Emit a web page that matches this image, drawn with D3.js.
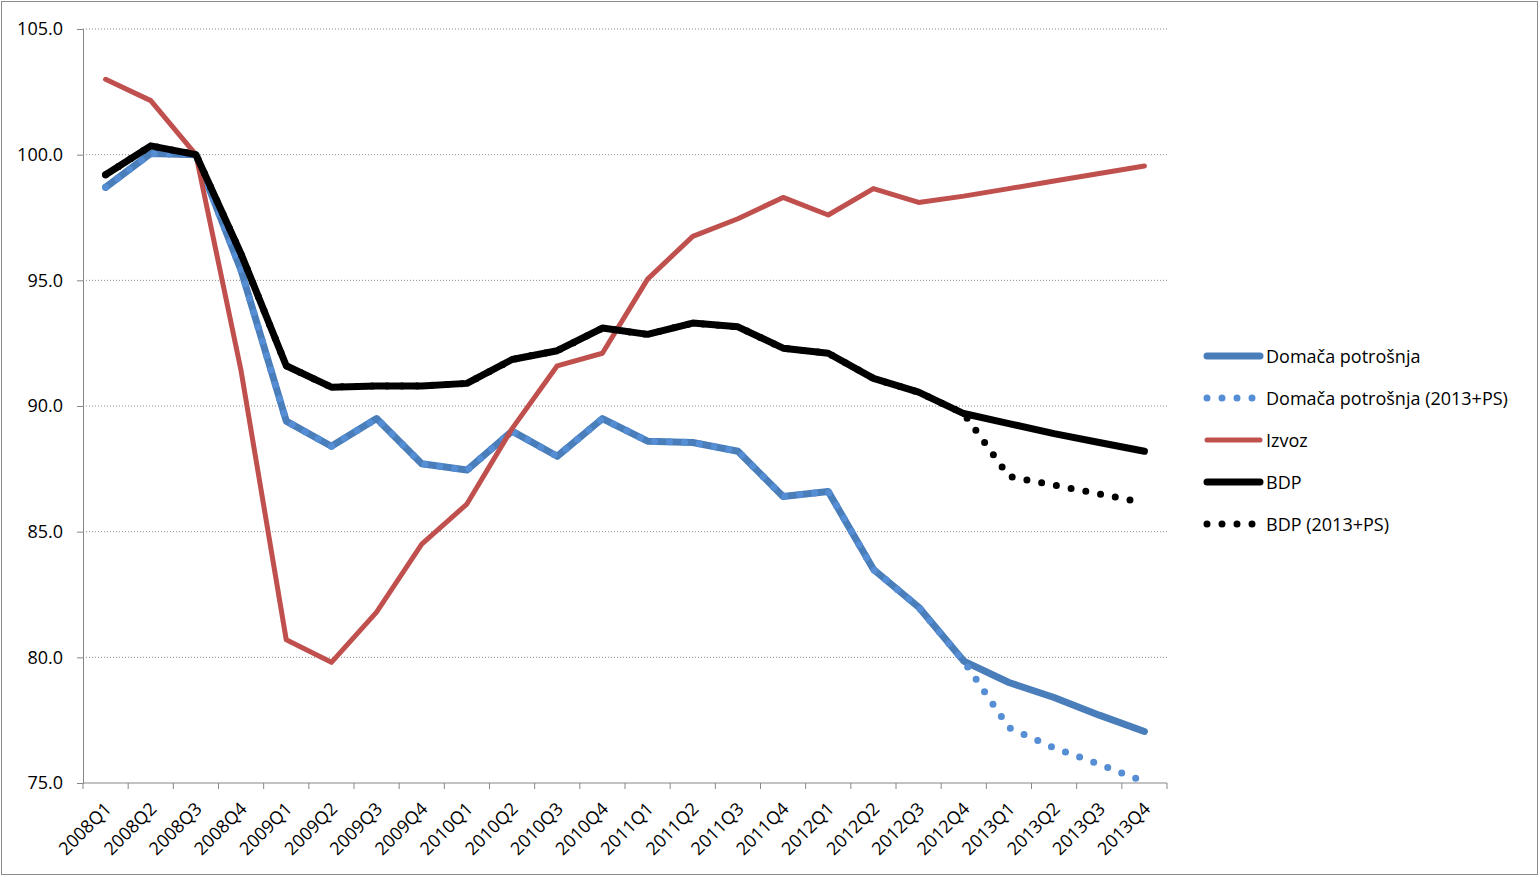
<!DOCTYPE html>
<html>
<head>
<meta charset="utf-8">
<script src="https://cdn.jsdelivr.net/npm/d3@7"></script>
<style>
  body { margin: 0; background: #fff; }
  text { font-family: "Open Sans", "DejaVu Sans", sans-serif; fill: #000; }
</style>
</head>
<body>
<div id="chart"></div>
<script>
// quarters on the x axis
const quarters = ["2008Q1","2008Q2","2008Q3","2008Q4","2009Q1","2009Q2","2009Q3","2009Q4",
  "2010Q1","2010Q2","2010Q3","2010Q4","2011Q1","2011Q2","2011Q3","2011Q4",
  "2012Q1","2012Q2","2012Q3","2012Q4","2013Q1","2013Q2","2013Q3","2013Q4"];

const domaca = [98.7, 100.05, 100.0, 95.4, 89.4, 88.4, 89.5, 87.7, 87.45, 89.0, 88.0, 89.5,
  88.6, 88.55, 88.2, 86.4, 86.6, 83.5, 82.0, 79.85, 79.0, 78.4, 77.7, 77.05];
const domacaPS = [98.7, 100.05, 100.0, 95.4, 89.4, 88.4, 89.5, 87.7, 87.45, 89.0, 88.0, 89.5,
  88.6, 88.55, 88.2, 86.4, 86.6, 83.5, 82.0, 79.85, 77.2, 76.4, 75.75, 75.05];
const izvoz = [103.0, 102.15, 100.0, 91.4, 80.7, 79.8, 81.8, 84.5, 86.1, 89.1, 91.6, 92.1,
  95.05, 96.75, 97.45, 98.3, 97.6, 98.65, 98.1, 98.35, 98.65, 98.95, 99.25, 99.55];
const bdp = [99.2, 100.35, 100.0, 96.05, 91.6, 90.75, 90.8, 90.8, 90.9, 91.85, 92.2, 93.1,
  92.85, 93.3, 93.15, 92.3, 92.1, 91.1, 90.55, 89.7, 89.3, 88.9, 88.55, 88.2];
const bdpPS = [99.2, 100.35, 100.0, 96.05, 91.6, 90.75, 90.8, 90.8, 90.9, 91.85, 92.2, 93.1,
  92.85, 93.3, 93.15, 92.3, 92.1, 91.1, 90.55, 89.7, 87.2, 86.85, 86.5, 86.15];

const yTicks = [75, 80, 85, 90, 95, 100, 105];

const series = [
  { name: "Domača potrošnja", values: domaca, color: "#4a7ebb", width: 7, dotted: false },
  { name: "Domača potrošnja (2013+PS)", values: domacaPS, color: "#558ed5", width: 7, dotted: true },
  { name: "Izvoz", values: izvoz, color: "#c0504d", width: 5, dotted: false },
  { name: "BDP", values: bdp, color: "#000000", width: 7, dotted: false },
  { name: "BDP (2013+PS)", values: bdpPS, color: "#000000", width: 7, dotted: true }
];

const W = 1540, H = 877;
const margin = { top: 29, left: 83, right: 373, bottom: 94 };
const width = W - margin.left - margin.right,
      height = H - margin.top - margin.bottom;

const svg = d3.select("#chart").append("svg")
  .attr("width", W).attr("height", H);

// outer frame
svg.append("rect")
  .attr("x", 1.5).attr("y", 1.5)
  .attr("width", W - 4).attr("height", H - 4)
  .attr("fill", "none").attr("stroke", "#8c8c8c").attr("stroke-width", 1);

const g = svg.append("g")
  .attr("transform", "translate(" + margin.left + "," + margin.top + ")");

const x = d3.scaleBand().domain(quarters).range([0, width]);
const y = d3.scaleLinear().domain([75, 105]).range([height, 0]);

// dotted grid lines
g.append("g")
  .selectAll("line")
  .data(yTicks.filter(d => d > 75))
  .enter().append("line")
  .attr("x1", 0).attr("x2", width)
  .attr("y1", d => y(d)).attr("y2", d => y(d))
  .attr("stroke", "#8a8a8a").attr("stroke-width", 1)
  .attr("stroke-dasharray", "1,2");

// Y axis
const yAxis = g.append("g")
  .call(d3.axisLeft(y).tickValues(yTicks).tickFormat(d3.format(".1f")).tickSize(6).tickPadding(14));
yAxis.select(".domain").attr("stroke", "#868686");
yAxis.selectAll(".tick line").attr("stroke", "#868686");
yAxis.selectAll("text").style("font-size", "18px");

// X axis with ticks at band edges
const xAxis = g.append("g")
  .attr("transform", "translate(0," + height + ")");
xAxis.append("line")
  .attr("x1", 0).attr("x2", width)
  .attr("stroke", "#868686");
xAxis.selectAll(".tk")
  .data(quarters.concat(["end"]))
  .enter().append("line")
  .attr("class", "tk")
  .attr("x1", (d, i) => i * x.step()).attr("x2", (d, i) => i * x.step())
  .attr("y1", 0).attr("y2", 6)
  .attr("stroke", "#868686");
xAxis.selectAll(".lbl")
  .data(quarters)
  .enter().append("text")
  .attr("class", "lbl")
  .attr("text-anchor", "end")
  .attr("transform", d => "translate(" + (x(d) + x.bandwidth() / 2 + 7) + ",27) rotate(-45)")
  .style("font-size", "18px")
  .text(d => d);

// lines
const line = d3.line()
  .x((d, i) => x(quarters[i]) + x.bandwidth() / 2)
  .y(d => y(d));

series.forEach(s => {
  g.append("path")
    .datum(s.values)
    .attr("d", line)
    .attr("fill", "none")
    .attr("stroke", s.color)
    .attr("stroke-width", s.width)
    .attr("stroke-linejoin", "round")
    .attr("stroke-linecap", "round")
    .attr("stroke-dasharray", s.dotted ? "0,15" : null);
});

// legend
const legend = svg.append("g").attr("transform", "translate(1205,356)");
series.forEach((s, i) => {
  const row = legend.append("g").attr("transform", "translate(0," + i * 42 + ")");
  row.append("line")
    .attr("x1", 2).attr("x2", s.dotted ? 50 : 55)
    .attr("stroke", s.color)
    .attr("stroke-width", s.width)
    .attr("stroke-linecap", "round")
    .attr("stroke-dasharray", s.dotted ? "0,15" : null);
  row.append("text")
    .attr("x", 61).attr("y", 7)
    .style("font-size", "18px")
    .text(s.name);
});
</script>
</body>
</html>
